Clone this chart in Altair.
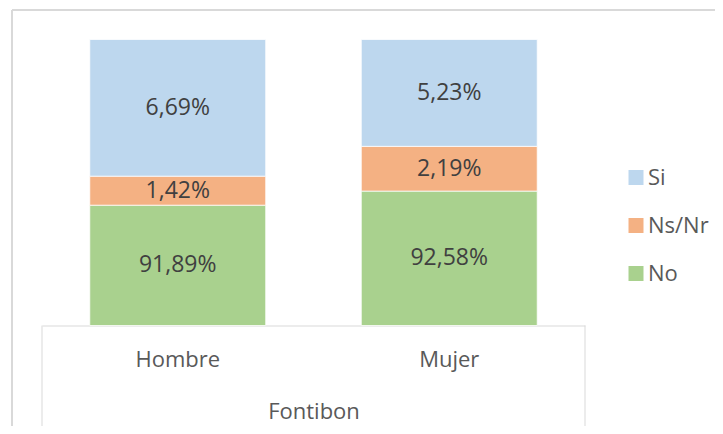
import altair as alt
import pandas as pd

categories = ["Hombre", "Mujer"]
series = ["Si", "Ns/Nr", "No"]
si = [6.69, 5.23]
nsnr = [1.42, 2.19]
no = [91.89, 92.58]
group_title = "Fontibon"
colors = ["#BDD7EE", "#F4B183", "#A9D18E"]
y_min, y_max = 86, 100

rows = []
for i, c in enumerate(categories):
    for name, vals, order in (("No", no, 0), ("Ns/Nr", nsnr, 1), ("Si", si, 2)):
        v = vals[i]
        rows.append({"cat": c, "serie": name, "value": v, "ord": order,
                     "label": f"{v:.2f}".replace(".", ",") + "%"})
df = pd.DataFrame(rows)

FONT = "Open Sans"
W, H = 543, 286

base = alt.Chart(df).transform_stack(
    stack="value", as_=["y0", "y1"], groupby=["cat"], sort=[alt.SortField("ord")]
).transform_calculate(
    ylo=f"max(datum.y0, {y_min})",
    mid=f"(max(datum.y0, {y_min}) + datum.y1) / 2",
)

xenc = alt.X(
    "cat:N", sort=categories, title=group_title,
    scale=alt.Scale(paddingInner=0.352, paddingOuter=0.176),
    axis=alt.Axis(labelAngle=0, ticks=False, domainColor="#D9D9D9", domainWidth=1,
                  labelFont=FONT, labelFontSize=22, labelColor="#595959", labelPadding=24,
                  titleFont=FONT, titleFontSize=22, titleColor="#595959",
                  titleFontWeight="normal", titleY=86, titleBaseline="middle"),
)

bars = base.mark_bar(stroke="white", strokeWidth=0.75).encode(
    x=xenc,
    y=alt.Y("ylo:Q", scale=alt.Scale(domain=[y_min, y_max], nice=False, zero=False), axis=None),
    y2="y1:Q",
    color=alt.Color("serie:N", scale=alt.Scale(domain=series, range=colors),
                    legend=alt.Legend(title=None, orient="none", legendX=583, legendY=127,
                                      symbolType="square", symbolSize=225, symbolStrokeWidth=0,
                                      labelFont=FONT, labelFontSize=22, labelColor="#595959",
                                      labelOffset=1, rowPadding=26)),
    order=alt.Order("ord:Q"),
)

texts = base.mark_text(font=FONT, fontSize=23, color="#404040", baseline="middle").encode(
    x=alt.X("cat:N", sort=categories),
    y=alt.Y("mid:Q"),
    text="label:N",
)

one = pd.DataFrame({"k": [0]})
line_color = "#D9D9D9"
outer_top = alt.Chart(one).mark_rule(color=line_color, strokeWidth=2).encode(
    x=alt.value(-30), x2=alt.value(W + 140), y=alt.value(-29.5))
outer_left = alt.Chart(one).mark_rule(color=line_color, strokeWidth=2).encode(
    x=alt.value(-30), y=alt.value(-29.5), y2=alt.value(H + 120))
box_left = alt.Chart(one).mark_rule(color=line_color, strokeWidth=1).encode(
    x=alt.value(0), y=alt.value(H), y2=alt.value(H + 102))
box_right = alt.Chart(one).mark_rule(color=line_color, strokeWidth=1).encode(
    x=alt.value(W), y=alt.value(H), y2=alt.value(H + 102))

chart = alt.layer(bars, texts, outer_top, outer_left, box_left, box_right).properties(
    width=W, height=H,
    autosize=alt.AutoSizeParams(type="none"),
    padding={"left": 34, "top": 31.5, "right": 130, "bottom": 100.5},
).configure_view(stroke=None)

chart.save("out.html", embed_options={"renderer": "svg", "actions": False})
